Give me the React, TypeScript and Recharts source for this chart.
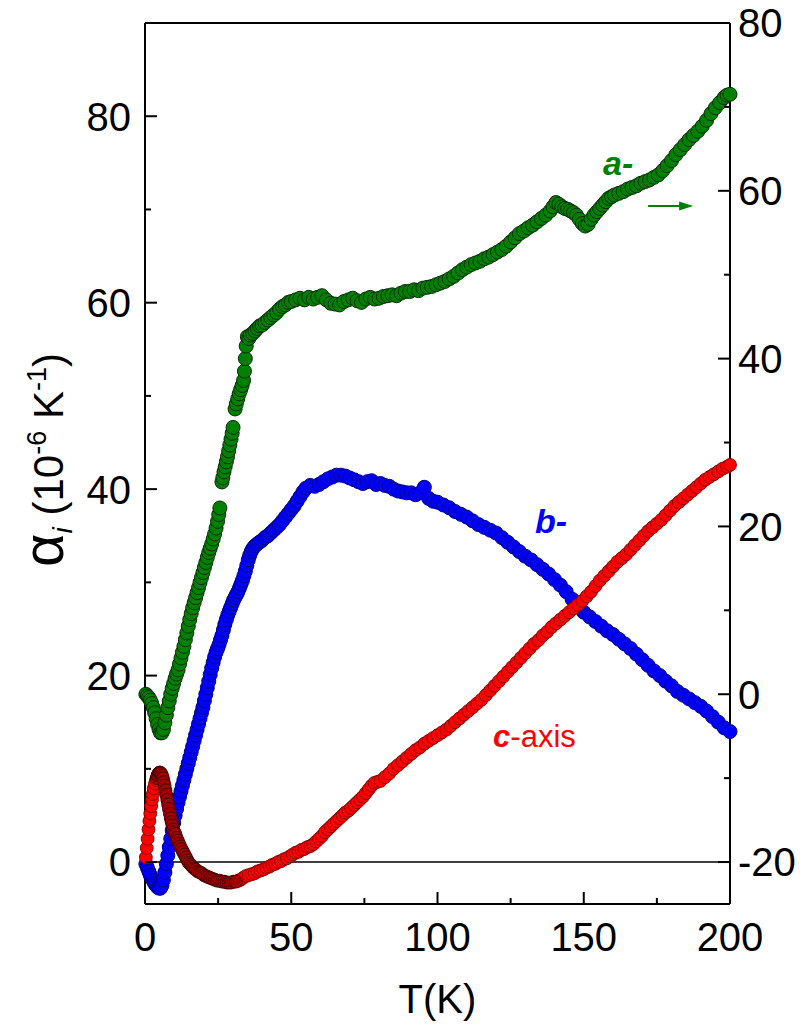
import { ReferenceDot, ReferenceLine, Scatter, ScatterChart, XAxis, YAxis } from 'recharts';

const FONT = '"Liberation Sans", Arial, Helvetica, sans-serif';

const CHART_W = 791;
const CHART_H = 1015;
const PLOT_LEFT = 137;
const PLOT_RIGHT = 722;
const PLOT_TOP = 15;
const PLOT_BOTTOM = 896;
const MAJOR_TICK = 12;
const MINOR_TICK = 6;

// axis ticks
const tempTicks = [0, 25, 50, 75, 100, 125, 150, 175, 200];
const tempLabels = [0, 50, 100, 150, 200];
const leftTicks = [0, 10, 20, 30, 40, 50, 60, 70, 80];
const leftLabels = [0, 20, 40, 60, 80];
const rightTicks = [-20, -10, 0, 10, 20, 30, 40, 50, 60, 70, 80];
const rightLabels = [-20, 0, 20, 40, 60, 80];

// a-axis, plotted against the right scale: [T (K), alpha (1e-6/K)]
const aAxis: [number, number][] = [
  [0.3, 0.0], [0.8, -0.2], [1.3, -0.4], [1.8, -0.7], [2.3, -1.1], [2.8, -1.6], [3.3, -2.2], [3.8, -2.9],
  [4.3, -3.6], [4.8, -4.2], [5.3, -4.6], [5.8, -4.6], [6.3, -4.2], [6.8, -3.4], [7.3, -2.5], [7.8, -1.6],
  [8.3, -0.8], [8.8, 0.0], [9.3, 0.7], [9.8, 1.3], [10.3, 1.9], [10.8, 2.4], [11.3, 2.9], [11.8, 3.6],
  [12.3, 4.3], [12.8, 5.0], [13.3, 5.7], [13.8, 6.5], [14.3, 7.3], [14.8, 8.1], [15.3, 8.9], [15.8, 9.6],
  [16.3, 10.3], [16.8, 10.9], [17.3, 11.5], [17.8, 12.1], [18.3, 12.7], [18.8, 13.3], [19.3, 13.9], [19.8, 14.5],
  [20.3, 15.1], [20.8, 15.7], [21.3, 16.3], [21.8, 16.9], [22.3, 17.4], [22.8, 17.9], [23.3, 18.5], [23.8, 19.1],
  [24.3, 19.8], [24.8, 20.6], [25.2, 21.4], [25.6, 22.2],
  [26.3, 25.3], [26.6, 25.8], [27.0, 26.5], [27.4, 27.1], [27.8, 27.7], [28.2, 28.3], [28.6, 29.0], [29.0, 29.7],
  [29.4, 30.4], [29.8, 31.1], [30.1, 31.8],
  [30.8, 34.0], [31.2, 34.6], [31.7, 35.2], [32.2, 35.8], [32.7, 36.3], [33.2, 36.8], [33.7, 37.4], [34.0, 38.5],
  [34.3, 40.0], [34.6, 41.5], [35.0, 42.6], [35.5, 42.4], [36.0, 42.8], [36.8, 43.0], [37.6, 43.3], [38.4, 43.6],
  [39.2, 43.9], [40, 44.0], [41, 44.3], [42, 44.6], [43, 44.9], [44, 45.2], [45, 45.5], [46, 45.9],
  [47, 46.2], [48, 46.4], [49, 46.7], [50, 46.8], [51.5, 47.0], [53, 47.2], [54.5, 47.0], [56, 47.3],
  [57.5, 47.1], [59, 47.3], [60.5, 47.5], [62, 47.0], [63.5, 46.6], [65, 46.5], [66.5, 46.4], [68, 46.8],
  [69.5, 47.0], [71, 47.2], [72.5, 46.9], [74, 46.7], [75.5, 47.1], [77, 47.3], [78.5, 47.1], [80, 47.2],
  [81.5, 47.4], [83, 47.5], [84.5, 47.6], [86, 47.5], [87.5, 47.8], [89, 48.0], [90.5, 48.0], [92, 48.2],
  [93.5, 48.1], [95, 48.4], [96.5, 48.5], [98, 48.6], [99.5, 48.8], [101, 49.0], [102.5, 49.2], [104, 49.5],
  [105.5, 49.8], [107, 50.2], [108.5, 50.6], [110, 50.9], [111.5, 51.2], [113, 51.4], [114.5, 51.6], [116, 51.9],
  [117.5, 52.1], [119, 52.4], [120.5, 52.7], [122, 53.0], [123.5, 53.4], [125, 53.9], [126.5, 54.4], [128, 54.9],
  [129.5, 55.2], [131, 55.6], [132.5, 55.9], [134, 56.3], [135.5, 56.7], [137, 57.1], [138.5, 57.6], [139.5, 58.1],
  [140.5, 58.6], [141.5, 58.4], [142.5, 58.1], [143.5, 57.9], [144.5, 57.8], [145.5, 57.6], [146.5, 57.4], [147.5, 57.1],
  [148.5, 56.6], [149.5, 56.1], [150.5, 55.8], [151.5, 56.0], [152.5, 56.6], [153.5, 57.1], [154.5, 57.5], [155.5, 57.9],
  [156.5, 58.3], [157.5, 58.7], [158.5, 59.1], [159.5, 59.3], [160.5, 59.5], [162, 59.7], [163.5, 59.9], [165, 60.2],
  [166.5, 60.4], [168, 60.6], [169.5, 60.9], [171, 61.1], [172.5, 61.3], [174, 61.6], [175.5, 61.9], [177, 62.4],
  [178.5, 63.0], [180, 63.6], [181.5, 64.3], [183, 64.9], [184.5, 65.5], [186, 66.1], [187.5, 66.6], [189, 67.1],
  [190.5, 67.7], [192, 68.4], [193.5, 69.2], [195, 69.9], [196.5, 70.5], [198, 71.1], [199, 71.4], [200, 71.5],
];

// b-axis, left scale
const bAxis: [number, number][] = [
  [0.3, -0.2], [0.8, -0.6], [1.3, -1.0], [1.8, -1.4], [2.3, -1.7], [2.8, -2.0], [3.3, -2.3], [3.8, -2.5],
  [4.3, -2.7], [4.8, -2.8], [5.3, -2.8], [5.8, -2.5], [6.3, -1.9], [6.8, -1.1], [7.3, -0.2], [7.8, 0.7],
  [8.3, 1.6], [8.8, 2.5], [9.3, 3.4], [9.8, 4.2], [10.3, 5.0], [10.8, 5.7], [11.3, 6.4], [11.8, 7.0],
  [12.3, 7.6], [12.8, 8.2], [13.3, 8.8], [13.8, 9.4], [14.3, 10.0], [14.8, 10.6], [15.3, 11.2], [15.8, 11.8],
  [16.3, 12.4], [16.8, 13.0], [17.3, 13.6], [17.8, 14.2], [18.3, 14.8], [18.8, 15.4], [19.3, 16.0], [19.8, 16.6],
  [20.3, 17.3], [20.8, 18.0], [21.3, 18.7], [21.8, 19.4], [22.3, 20.1], [22.8, 20.8], [23.3, 21.4], [23.8, 22.0],
  [24.3, 22.5], [24.8, 22.9], [25.3, 23.3], [25.8, 23.8], [26.3, 24.3], [26.8, 24.9], [27.3, 25.5], [27.8, 26.0],
  [28.3, 26.5], [28.8, 26.9], [29.3, 27.3], [29.8, 27.7], [30.3, 28.1], [30.8, 28.4], [31.3, 28.7], [31.8, 29.0],
  [32.3, 29.4], [32.8, 29.8], [33.3, 30.2], [33.8, 30.7], [34.3, 31.2], [34.8, 31.8], [35.3, 32.4], [35.8, 32.9],
  [36.3, 33.3], [36.8, 33.6], [37.5, 33.9], [38.3, 34.1], [39.1, 34.3], [40, 34.5], [41, 34.8], [42, 35.0],
  [43, 35.3], [44, 35.6], [45, 35.9], [46, 36.2], [47, 36.6], [48, 37.0], [49, 37.4], [50, 37.8],
  [51, 38.2], [52, 38.7], [53, 39.2], [54, 39.7], [55, 40.1], [56.5, 40.4], [58, 40.3], [59.5, 40.5],
  [61, 40.8], [62.5, 41.1], [64, 41.3], [65.5, 41.5], [67, 41.5], [68.5, 41.4], [70, 41.2], [71.5, 41.0],
  [73, 40.8], [74.5, 40.6], [76, 40.8], [77.5, 40.9], [79, 40.5], [80.5, 40.6], [82, 40.4], [83.5, 40.3],
  [85, 40.0], [86.5, 39.8], [88, 39.7], [89.5, 39.6], [91, 39.6], [92.5, 39.4], [94, 39.6], [95.5, 40.2],
  [97, 39.0], [98.5, 38.7], [100, 38.6], [102, 38.3], [104, 38.0], [106, 37.6], [108, 37.3], [110, 37.0],
  [112, 36.6], [114, 36.2], [116, 35.9], [118, 35.6], [120, 35.3], [122, 34.8], [124, 34.3], [126, 33.8],
  [128, 33.3], [130, 32.8], [132, 32.4], [134, 31.9], [136, 31.4], [138, 30.9], [140, 30.3], [142, 29.7],
  [144, 29.0], [146, 28.2], [148, 27.4], [150, 26.8], [152, 26.3], [154, 25.8], [156, 25.3], [158, 24.8],
  [160, 24.4], [162, 23.9], [164, 23.4], [166, 22.9], [168, 22.3], [170, 21.7], [172, 21.1], [174, 20.5],
  [176, 20.0], [178, 19.4], [180, 18.9], [182, 18.3], [184, 17.9], [186, 17.5], [188, 17.1], [190, 16.7],
  [192, 16.2], [194, 15.6], [196, 15.0], [198, 14.4], [200, 14.0],
];

// c-axis, left scale: main run
const cAxis: [number, number][] = [
  [0.3, 0.5], [0.6, 1.5], [0.9, 2.5], [1.2, 3.5], [1.5, 4.4], [1.8, 5.2], [2.1, 6.0], [2.4, 6.7],
  [2.7, 7.3], [3.0, 7.9], [3.4, 8.4], [3.8, 8.8],
  [31.9, -2.0], [32.7, -1.9], [33.5, -1.7], [34.5, -1.5], [35.5, -1.4], [36.5, -1.3], [37.5, -1.2], [38.5, -1.0],
  [39.5, -0.9], [40.5, -0.8], [41.5, -0.6], [42.5, -0.5], [43.5, -0.3], [44.5, -0.2], [45.5, 0.0], [46.5, 0.1],
  [47.5, 0.3], [48.5, 0.4], [49.5, 0.6], [50.5, 0.8], [51.5, 1.0], [52.5, 1.1], [53.5, 1.3], [54.5, 1.4],
  [55.5, 1.6], [56.5, 1.7], [57.5, 1.9], [58.5, 2.2], [59.5, 2.5], [60.5, 2.8], [61.5, 3.2], [62.5, 3.5],
  [63.5, 3.8], [64.5, 4.1], [65.5, 4.4], [66.5, 4.7], [67.5, 5.0], [68.5, 5.3], [69.5, 5.5], [70.5, 5.8],
  [71.5, 6.1], [72.5, 6.4], [73.5, 6.7], [74.5, 7.0], [75.5, 7.4], [76.5, 7.8], [77.5, 8.2], [78.5, 8.5],
  [79.5, 8.6], [80.5, 8.7], [82, 9.1], [83.5, 9.5], [85, 10.0], [86.5, 10.4], [88, 10.8], [89.5, 11.2],
  [91, 11.6], [92.5, 12.0], [94, 12.3], [95.5, 12.7], [97, 13.0], [98.5, 13.3], [100, 13.6], [101.5, 13.9],
  [103, 14.2], [104.5, 14.6], [106, 15.0], [107.5, 15.4], [109, 15.8], [110.5, 16.2], [112, 16.6], [113.5, 17.0],
  [115, 17.4], [116.5, 17.9], [118, 18.4], [119.5, 18.9], [121, 19.4], [122.5, 19.9], [124, 20.4], [125.5, 20.9],
  [127, 21.4], [128.5, 21.9], [130, 22.4], [131.5, 22.9], [133, 23.4], [134.5, 23.8], [136, 24.3], [137.5, 24.7],
  [139, 25.2], [140.5, 25.6], [142, 26.0], [143.5, 26.4], [145, 26.8], [146.5, 27.2], [148, 27.6], [149.5, 28.0],
  [151, 28.5], [152.5, 29.0], [154, 29.6], [155.5, 30.2], [157, 30.7], [158.5, 31.2], [160, 31.7], [161.5, 32.2],
  [163, 32.6], [164.5, 33.0], [166, 33.5], [167.5, 34.0], [169, 34.5], [170.5, 35.0], [172, 35.5], [173.5, 35.9],
  [175, 36.3], [176.5, 36.7], [178, 37.2], [179.5, 37.7], [181, 38.2], [182.5, 38.6], [184, 39.0], [185.5, 39.4],
  [187, 39.8], [188.5, 40.2], [190, 40.6], [191.5, 41.0], [193, 41.3], [194.5, 41.6], [196, 41.9], [197.5, 42.2],
  [199, 42.4], [200, 42.6],
];

// c-axis, left scale: low-temperature run
const cAxisLow: [number, number][] = [
  [4.0, 9.0], [4.3, 9.3], [4.6, 9.5], [4.9, 9.6], [5.2, 9.6], [5.5, 9.5], [5.8, 9.3], [6.1, 9.0],
  [6.4, 8.6], [6.7, 8.2], [7.0, 7.7], [7.3, 7.2], [7.6, 6.7], [7.9, 6.2], [8.2, 5.7], [8.5, 5.2],
  [8.8, 4.7], [9.1, 4.3], [9.4, 3.9], [9.7, 3.5], [10.0, 3.2], [10.4, 3.0], [10.8, 2.6], [11.2, 2.3],
  [11.6, 2.0], [12.0, 1.7], [12.5, 1.4], [13.0, 1.1], [13.5, 0.8], [14.0, 0.5], [14.5, 0.2], [15.0, -0.1],
  [15.6, -0.3], [16.2, -0.5], [16.8, -0.7], [17.4, -0.8], [18.0, -1.0], [18.7, -1.1], [19.4, -1.2], [20.1, -1.4],
  [20.8, -1.5], [21.5, -1.6], [22.3, -1.7], [23.1, -1.8], [23.9, -1.9], [24.7, -2.0], [25.5, -2.0], [26.3, -2.1],
  [27.1, -2.1], [27.9, -2.2], [28.7, -2.2], [29.5, -2.2], [30.3, -2.1], [31.1, -2.1],
];

const toPoints = (rows: [number, number][]) => rows.map(([t, v]) => ({ t, v }));

const marker = (fill: string, stroke: string, r: number) => (props: any) => (
  <circle cx={props.cx} cy={props.cy} r={r} fill={fill} stroke={stroke} strokeWidth={1} />
);

const labelText = { fontFamily: FONT, fontSize: 40, fill: '#000' };

function BottomTick(props: any) {
  const { x, payload } = props;
  const major = tempLabels.includes(payload.value);
  return (
    <g>
      <line x1={x} x2={x} y1={PLOT_BOTTOM} y2={PLOT_BOTTOM - (major ? MAJOR_TICK : MINOR_TICK)} stroke="#000" strokeWidth={2} />
      {major && (
        <text x={x} y={PLOT_BOTTOM + 47} textAnchor="middle" {...labelText}>
          {payload.value}
        </text>
      )}
    </g>
  );
}

function TopTick(props: any) {
  const { x, payload } = props;
  const major = tempLabels.includes(payload.value);
  return <line x1={x} x2={x} y1={PLOT_TOP} y2={PLOT_TOP + (major ? MAJOR_TICK : MINOR_TICK)} stroke="#000" strokeWidth={2} />;
}

function LeftTick(props: any) {
  const { y, payload } = props;
  const major = leftLabels.includes(payload.value);
  return (
    <g>
      <line x1={PLOT_LEFT} x2={PLOT_LEFT + (major ? MAJOR_TICK : MINOR_TICK)} y1={y} y2={y} stroke="#000" strokeWidth={2} />
      {major && (
        <text x={PLOT_LEFT - 14} y={y} dy="0.36em" textAnchor="end" {...labelText}>
          {payload.value}
        </text>
      )}
    </g>
  );
}

function RightTick(props: any) {
  const { y, payload } = props;
  const major = rightLabels.includes(payload.value);
  return (
    <g>
      <line x1={PLOT_RIGHT} x2={PLOT_RIGHT - (major ? MAJOR_TICK : MINOR_TICK)} y1={y} y2={y} stroke="#000" strokeWidth={2} />
      {major && (
        <text x={PLOT_RIGHT + 8} y={y} dy="0.36em" textAnchor="start" {...labelText}>
          {payload.value}
        </text>
      )}
    </g>
  );
}

function TempTitle() {
  return (
    <text x={(PLOT_LEFT + PLOT_RIGHT) / 2} y={1005} textAnchor="middle" {...labelText}>
      T(K)
    </text>
  );
}

function AlphaTitle() {
  return (
    <text transform={`translate(55, 452) rotate(-90)`} textAnchor="middle" fontFamily={FONT} fontSize={42} fill="#000">
      <tspan fontSize={58}>α</tspan>
      <tspan fontSize={28} fontStyle="italic" dy={9}>i</tspan>
      <tspan dy={-9}>{' (10'}</tspan>
      <tspan fontSize={27} dy={-17}>-6</tspan>
      <tspan dy={17}>{' K'}</tspan>
      <tspan fontSize={27} dy={-17}>-1</tspan>
      <tspan dy={17}>)</tspan>
    </text>
  );
}

function ArrowShape(props: any) {
  const { x1, y1, x2, y2 } = props;
  return (
    <g>
      <line x1={x1} y1={y1} x2={x2 - 10} y2={y2} stroke="#008000" strokeWidth={2} />
      <polygon points={`${x2},${y2} ${x2 - 14},${y2 - 4.5} ${x2 - 14},${y2 + 4.5}`} fill="#008000" />
    </g>
  );
}

const seriesLabel = (content: React.ReactNode, color: string, size: number) => (props: any) => (
  <text x={props.cx} y={props.cy} fontFamily={FONT} fontSize={size} fill={color}>
    {content}
  </text>
);

export default function App() {
  const axisLine = { stroke: '#000', strokeWidth: 2 };
  return (
    <div style={{ width: CHART_W, height: CHART_H }}>
      <ScatterChart
        width={CHART_W}
        height={CHART_H}
        margin={{ top: 0, right: 0, bottom: 0, left: 0 }}
        style={{ overflow: 'visible' }}
      >
        <XAxis
          dataKey="t"
          type="number"
          domain={[0, 200]}
          ticks={tempTicks}
          interval={0}
          height={CHART_H - PLOT_BOTTOM}
          tickLine={false}
          axisLine={axisLine}
          tick={BottomTick}
          label={{ content: TempTitle }}
        />
        <XAxis
          xAxisId="top"
          orientation="top"
          type="number"
          domain={[0, 200]}
          ticks={tempTicks}
          interval={0}
          height={PLOT_TOP}
          tickLine={false}
          axisLine={axisLine}
          tick={TopTick}
        />
        <YAxis
          yAxisId="left"
          dataKey="v"
          type="number"
          domain={[-4.5, 90]}
          allowDataOverflow
          ticks={leftTicks}
          interval={0}
          width={PLOT_LEFT}
          tickLine={false}
          axisLine={axisLine}
          tick={LeftTick}
          label={{ content: AlphaTitle }}
        />
        <YAxis
          yAxisId="right"
          orientation="right"
          dataKey="v"
          type="number"
          domain={[-25, 80]}
          allowDataOverflow
          ticks={rightTicks}
          interval={0}
          width={CHART_W - PLOT_RIGHT}
          tickLine={false}
          axisLine={axisLine}
          tick={RightTick}
        />

        <Scatter yAxisId="right" data={toPoints(aAxis)} shape={marker('#008000', '#0b2a0b', 7)} isAnimationActive={false} />
        <Scatter yAxisId="left" data={toPoints(bAxis)} shape={marker('#0000ff', '#00008c', 7)} isAnimationActive={false} />
        <Scatter yAxisId="left" data={toPoints(cAxis)} shape={marker('#ff0000', '#8c0000', 6.4)} isAnimationActive={false} />
        <Scatter yAxisId="left" data={toPoints(cAxisLow)} shape={marker('#a00000', '#4a0000', 6.4)} isAnimationActive={false} />

        <ReferenceLine yAxisId="left" y={0} stroke="#000" strokeWidth={1.5} />

        <ReferenceLine
          yAxisId="right"
          segment={[{ x: 172, y: 58.2 }, { x: 187.4, y: 58.2 }]}
          shape={ArrowShape}
        />
        <ReferenceDot
          yAxisId="right"
          x={156.6}
          y={61.9}
          shape={seriesLabel(<tspan fontWeight="bold" fontStyle="italic">a-</tspan>, '#008000', 34)}
        />
        <ReferenceDot
          yAxisId="left"
          x={133.3}
          y={35.3}
          shape={seriesLabel(<tspan fontWeight="bold" fontStyle="italic">b-</tspan>, '#0000ff', 34)}
        />
        <ReferenceDot
          yAxisId="left"
          x={119}
          y={12.3}
          shape={seriesLabel(
            <>
              <tspan fontWeight="bold" fontStyle="italic">c</tspan>
              <tspan>-axis</tspan>
            </>,
            '#ff0000',
            31,
          )}
        />
      </ScatterChart>
    </div>
  );
}
